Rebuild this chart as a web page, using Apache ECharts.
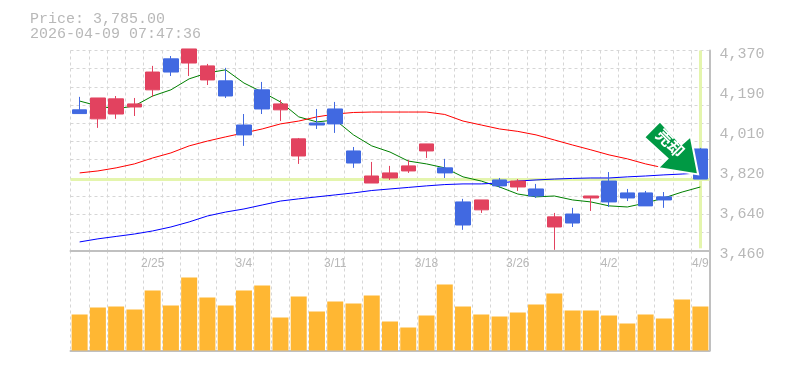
<!DOCTYPE html>
<html>
<head>
<meta charset="utf-8">
<style>html,body{margin:0;padding:0;background:#fff}#main{width:785px;height:370px}</style>
<script src="https://cdn.jsdelivr.net/npm/echarts@6/dist/echarts.min.js"></script>
</head>
<body>
<div id="main"></div>
<script>
var priceText = 'Price: 3,785.00';
var timeText = '2026-04-09 07:47:36';
var lastPrice = 3785;
var arrowText = '売却';
var dates = ['2/18','2/19','2/20','2/24','2/25','2/26','2/27','3/2','3/3','3/4','3/5','3/6','3/9','3/10','3/11','3/12','3/13','3/16','3/17','3/18','3/19','3/23','3/24','3/25','3/26','3/27','3/30','3/31','4/1','4/2','4/3','4/6','4/7','4/8','4/9'];
/* open, close, low, high */
var candles = [
	[4100,4083,4083,4159],[4059,4154,4018,4154],[4081,4150,4059,4163],[4113,4127,4072,4154],[4191,4272,4159,4300],
	[4332,4272,4254,4345],[4313,4377,4254,4377],[4236,4300,4213,4309],[4232,4163,4154,4291],[4031,3986,3936,4081],
	[4191,4104,4081,4227],[4100,4127,4049,4145],[3890,3968,3854,3972],[4040,4031,4013,4104],[4104,4036,3995,4136],
	[3913,3858,3836,3931],[3767,3799,3767,3863],[3790,3813,3781,3845],[3822,3845,3813,3872],[3913,3945,3881,3945],
	[3836,3813,3790,3877],[3681,3576,3554,3695],[3645,3690,3631,3690],[3781,3754,3745,3790],[3749,3776,3731,3785],
	[3740,3708,3699,3763],[3567,3613,3463,3631],[3626,3585,3567,3654],[3699,3708,3640,3708],[3776,3681,3658,3817],
	[3722,3699,3685,3740],[3722,3663,3663,3731],[3704,3690,3654,3726],[3836,3917,3836,3917],[3922,3785,3785,3927]
];
var maShort = [4140,4118,4104,4118,4163,4191,4241,4268,4282,4222,4181,4136,4068,4045,4054,3986,3936,3908,3867,3854,3836,3795,3776,3749,3717,3704,3708,3690,3681,3663,3658,3676,3699,3726,3749];
var maMid = [3813,3822,3836,3854,3881,3904,3936,3958,3977,3995,4013,4036,4049,4068,4081,4088,4090,4090,4090,4090,4079,4049,4031,4013,4002,3986,3963,3940,3918,3895,3877,3854,3836,3829,3822];
var maLong = [3499,3513,3524,3535,3549,3567,3590,3617,3635,3649,3667,3685,3695,3704,3713,3722,3733,3740,3747,3754,3760,3763,3763,3767,3776,3781,3785,3788,3790,3790,3795,3799,3804,3808,3813];
var volumes = [36,43,44,41,60,45,73,53,45,60,65,33,54,39,49,47,55,29,23,35,66,44,36,34,38,46,57,40,40,35,27,36,32,51,44];
var priceTicks = [3460,3642,3824,4006,4188,4370];
var priceLabels = ['3,460','3,640','3,820','4,010','4,190','4,370'];
var priceGrid = [3460,3542.7,3625.5,3708.2,3790.9,3873.6,3956.4,4039.1,4121.8,4204.5,4287.3,4370];

var textColor = '#b8b8b8';
var axisColor = '#c0c0c0';
var monoFont = '"Liberation Mono", monospace';
var dashLine = { color : '#d6d6d6', type : [ 3, 3 ], width : 1 };

var option = {
	backgroundColor : '#ffffff',
	animation : false,
	title : {
		text : priceText + '\n' + timeText,
		left : 25,
		top : 7,
		textStyle : { color : textColor, fontFamily : monoFont, fontSize : 15, fontWeight : 'normal', lineHeight : 15 }
	},
	grid : [
		{ left : 70.5, width : 639, top : 50.5, height : 200 },
		{ left : 70.5, width : 639, top : 250.5, height : 100 }
	],
	xAxis : [
		{ type : 'category', gridIndex : 0, data : dates, axisLine : { show : false }, axisTick : { show : false }, axisLabel : { show : false },
			splitLine : { show : true, interval : 0, lineStyle : dashLine } },
		{ type : 'category', gridIndex : 1, data : dates, position : 'bottom', axisLine : { lineStyle : { color : axisColor, width : 2 } }, axisTick : { show : false }, axisLabel : { show : false },
			splitLine : { show : true, interval : 0, lineStyle : dashLine } },
		{ type : 'category', gridIndex : 1, data : dates, position : 'top', axisLine : { lineStyle : { color : axisColor, width : 2 } }, axisTick : { show : false },
			axisLabel : { inside : true, margin : 7, color : textColor, fontFamily : '"Liberation Sans"', fontSize : 12,
				interval : function(index) { return index % 5 === 4; } } }
	],
	yAxis : [
		{ type : 'value', gridIndex : 0, position : 'right', min : 3460, max : 4370, scale : true,
			axisLine : { show : true, onZero : false, lineStyle : { color : axisColor, width : 2 } },
			axisTick : { show : false, customValues : priceGrid },
			axisLabel : { customValues : priceTicks, margin : 10, color : textColor, fontFamily : monoFont, fontSize : 15, verticalAlign : 'top', lineHeight : 8,
				formatter : function(value) { return priceLabels[priceTicks.indexOf(value)]; } },
			splitLine : { show : true, lineStyle : dashLine } },
		{ type : 'value', gridIndex : 1, position : 'right', min : 0, max : 100,
			axisLine : { show : true, onZero : false, lineStyle : { color : axisColor, width : 2 } },
			axisTick : { show : false }, axisLabel : { show : false }, splitLine : { show : false } }
	],
	series : [
		{
			name : 'short', type : 'line', data : maShort, z : 2, symbol : 'none', lineStyle : { color : '#008000', width : 1 },
			markLine : {
				silent : true, symbol : 'none', z : 1, label : { show : false },
				lineStyle : { color : '#e4f5ad', type : 'solid', width : 3 },
				data : [
					{ yAxis : lastPrice },
					[ { coord : [ dates[34], 4370 ] }, { coord : [ dates[34], 3470 ] } ]
				]
			}
		},
		{ name : 'mid', type : 'line', data : maMid, z : 2, symbol : 'none', lineStyle : { color : '#ff0000', width : 1 } },
		{ name : 'long', type : 'line', data : maLong, z : 2, symbol : 'none', lineStyle : { color : '#0000ff', width : 1 } },
		{
			name : 'price', type : 'candlestick', data : candles, z : 3, barWidth : 15, clip : false,
			itemStyle : { color : '#e2425f', color0 : '#4169e1', borderColor : '#e2425f', borderColor0 : '#4169e1', borderWidth : 1 },
			markPoint : {
				silent : true, z : 6,
				symbol : 'path://M15 0L0 15L22 35L13 44L51 50L44 14L35 22Z',
				symbolSize : [ 54, 53 ],
				symbolOffset : [ -11, 0 ],
				itemStyle : { color : '#009944', borderColor : '#ffffff', borderWidth : 2 },
				label : { show : true, position : 'inside', formatter : arrowText, color : '#ffffff', fontFamily : '"Noto Sans CJK JP"', fontSize : 16, fontWeight : 'bold', rotate : -45, offset : [ -4, -3 ] },
				data : [ { coord : [ dates[33], 3927 ] } ]
			}
		},
		{ name : 'volume', type : 'bar', xAxisIndex : 1, yAxisIndex : 1, data : volumes, barWidth : 16, itemStyle : { color : '#ffb733' } }
	]
};
var myChart = echarts.init(document.getElementById('main'));
myChart.setOption(option);
</script>
</body>
</html>
